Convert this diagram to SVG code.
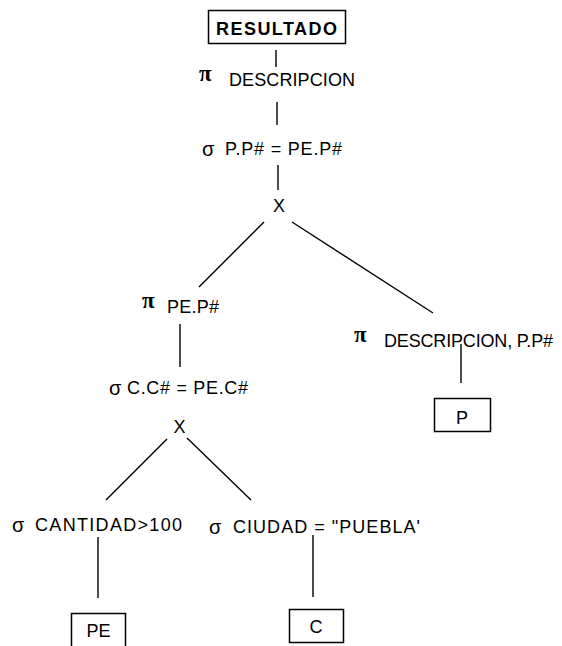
<svg xmlns="http://www.w3.org/2000/svg" width="562" height="646" viewBox="0 0 562 646">
  <style>
    text { font-family: "Liberation Sans", Arial, sans-serif; fill: #000; }
    .lbl { font-size: 18px; }
    .op { font-size: 20px; }
    .pi { font-size: 23px; font-weight: bold; font-family: "Liberation Serif", "Times New Roman", serif; }
    .title { font-size: 18px; font-weight: bold; }
    .box { fill: #fff; stroke: #000; stroke-width: 1.5; }
    .edge { stroke: #000; stroke-width: 1.4; fill: none; }
  </style>
  <rect width="562" height="646" fill="#fff"/>

  <!-- connectors -->
  <g id="connectors">
    <line class="edge" x1="276" y1="50" x2="276" y2="67"/>
    <line class="edge" x1="277" y1="102" x2="277" y2="125"/>
    <line class="edge" x1="278" y1="165" x2="278" y2="190"/>
    <line class="edge" x1="264" y1="222" x2="199" y2="287"/>
    <line class="edge" x1="292" y1="222" x2="433" y2="313"/>
    <line class="edge" x1="180" y1="324" x2="180" y2="367"/>
    <line class="edge" x1="461" y1="344" x2="461" y2="383"/>
    <line class="edge" x1="167" y1="439" x2="106" y2="500"/>
    <line class="edge" x1="187" y1="438" x2="251" y2="500"/>
    <line class="edge" x1="98" y1="537" x2="98" y2="598"/>
    <line class="edge" x1="313" y1="535" x2="313" y2="597"/>
  </g>

  <!-- result -->
  <g id="resultado">
    <rect class="box" x="208.5" y="10.5" width="137" height="33"/>
    <text class="title" x="216" y="35" textLength="121">RESULTADO</text>
  </g>

  <!-- projection on DESCRIPCION -->
  <g id="proj-descripcion">
    <text class="pi" x="199" y="81">π</text>
    <text class="lbl" x="229" y="86" textLength="126">DESCRIPCION</text>
  </g>

  <!-- join selection -->
  <g id="sel-join">
    <text class="op" x="202" y="156">σ</text>
    <text class="lbl" x="225" y="155" textLength="117">P.P# = PE.P#</text>
  </g>

  <!-- top cartesian product -->
  <g id="product-top">
    <text class="lbl" x="279" y="212" text-anchor="middle">X</text>
  </g>

  <!-- projection on PE.P# -->
  <g id="proj-pe">
    <text class="pi" x="142" y="308">π</text>
    <text class="lbl" x="167" y="313" textLength="52">PE.P#</text>
  </g>

  <!-- projection on DESCRIPCION, P.P# -->
  <g id="proj-p">
    <text class="pi" x="354" y="342">π</text>
    <text class="lbl" x="384" y="347" textLength="169">DESCRIPCION, P.P#</text>
  </g>

  <!-- relation P -->
  <g id="rel-p">
    <rect class="box" x="434.5" y="398.5" width="56" height="33"/>
    <text class="lbl" x="462" y="424" text-anchor="middle">P</text>
  </g>

  <!-- selection C.C# = PE.C# -->
  <g id="sel-c-pe">
    <text class="op" x="109" y="395">σ</text>
    <text class="lbl" x="127" y="394" textLength="121">C.C# = PE.C#</text>
  </g>

  <!-- lower cartesian product -->
  <g id="product-bottom">
    <text class="lbl" x="179.5" y="433" text-anchor="middle">X</text>
  </g>

  <!-- selection on CANTIDAD -->
  <g id="sel-cantidad">
    <text class="op" x="12" y="532">σ</text>
    <text class="lbl" x="35" y="531" textLength="147">CANTIDAD&gt;100</text>
  </g>

  <!-- selection on CIUDAD -->
  <g id="sel-ciudad">
    <text class="op" x="209" y="534">σ</text>
    <text class="lbl" x="233" y="533" textLength="187">CIUDAD = "PUEBLA'</text>
  </g>

  <!-- relation PE -->
  <g id="rel-pe">
    <rect class="box" x="71.5" y="613.5" width="54" height="36"/>
    <text class="lbl" x="98.5" y="637" text-anchor="middle">PE</text>
  </g>

  <!-- relation C -->
  <g id="rel-c">
    <rect class="box" x="289.5" y="609.5" width="54" height="33"/>
    <text class="lbl" x="316" y="633" text-anchor="middle">C</text>
  </g>
</svg>
